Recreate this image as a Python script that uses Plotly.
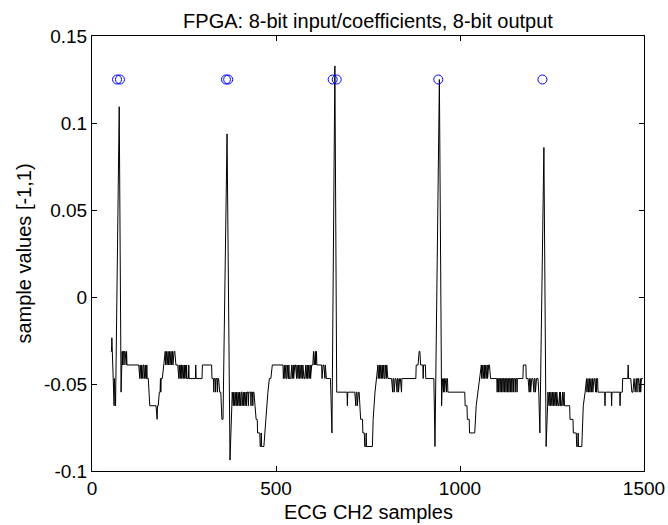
import plotly.graph_objects as go

# ---- data (x = sample index, code = 8-bit output code, LSB = 1/128) ----
OUTPUT_LSB = 1.0 / 128

SEG_BEAT1 = [
    (51, -4), (53, -4), (54, -3), (55, -4), (57, -6), (59, -6), (60, -8), (61, -6), (62, -8), (64, -8),
    (74, 14), (77, -7), (79, -7), (82, -4),
    (83, -5), (84, -4), (86, -4), (87, -5), (88, -4), (90, -4), (91, -5), (92, -4), (93, -5), (94, -4), (95, -5),
    (127, -5),
    (128, -6), (129, -5), (130, -6), (131, -5), (132, -6), (134, -6), (135, -5), (136, -6), (137, -5), (138, -6),
    (139, -5), (141, -5), (142, -6), (143, -5), (144, -6), (145, -5), (146, -6), (148, -6), (149, -5), (150, -6),
    (153, -6), (154, -7), (156, -7), (157, -8), (174, -8), (175, -9), (177, -9), (178, -8), (180, -8), (183, -7),
    (185, -7), (186, -6), (187, -7), (188, -6), (191, -6), (194, -5), (196, -5), (197, -4),
    (199, -4), (200, -5), (201, -4), (202, -5), (203, -4), (204, -5), (205, -4), (207, -4), (208, -5), (209, -4),
    (210, -5), (211, -4), (212, -5), (213, -4), (215, -4), (216, -5), (217, -4), (218, -5), (219, -4), (220, -5),
    (221, -4), (222, -5), (223, -4), (225, -4), (226, -5), (227, -4), (228, -5),
    (233, -5), (234, -6), (235, -5), (236, -6), (237, -5), (238, -6), (239, -5), (240, -6), (241, -5), (243, -5),
    (244, -6), (245, -5), (246, -6), (247, -5), (248, -6), (249, -5), (250, -6), (251, -5), (252, -6), (253, -5),
    (255, -5), (256, -6), (257, -5), (258, -6),
    (262, -6), (263, -5), (264, -6), (281, -6), (282, -5), (283, -6), (299, -6), (300, -5), (325, -5), (326, -6),
    (330, -6), (331, -7), (332, -6), (335, -6), (336, -7), (337, -6), (340, -6), (341, -7), (342, -6), (344, -6),
    (345, -7), (346, -6), (347, -7), (350, -7), (352, -8), (353, -9), (356, -9),
]

SEG_BEAT2 = [
    (367, 12), (375, -12), (378, -8),
    (380, -8), (381, -7), (382, -8), (383, -7), (384, -8), (385, -7), (386, -8), (387, -7), (388, -8), (389, -7),
    (390, -8), (392, -8), (393, -7), (394, -8), (395, -7), (396, -8), (397, -7), (398, -8), (400, -8), (401, -7),
    (402, -8), (403, -7), (404, -8), (405, -7), (407, -7), (408, -8), (409, -7), (410, -8), (411, -7), (412, -8),
    (413, -7), (415, -7), (416, -8), (417, -7), (419, -7), (420, -8), (421, -7), (424, -7), (425, -8), (426, -7),
    (431, -7), (432, -8), (433, -7), (436, -7), (437, -8), (438, -7), (440, -7), (441, -8), (443, -8),
    (446, -9), (449, -9), (450, -10), (456, -10), (457, -11), (459, -11), (460, -10), (461, -11), (467, -11),
    (472, -9), (478, -7), (482, -6), (486, -6), (490, -5), (519, -5),
    (520, -6), (521, -5), (522, -6), (523, -5), (524, -6), (525, -5), (526, -6), (527, -5), (528, -6), (530, -6),
    (531, -5), (532, -6), (533, -5), (534, -6), (535, -5), (536, -6), (540, -6), (541, -5), (542, -6), (543, -5),
    (544, -6), (545, -5), (546, -6), (547, -5), (548, -6), (549, -5), (550, -6), (551, -5), (553, -5), (554, -6),
    (555, -5), (556, -6), (557, -5), (558, -6), (559, -5), (560, -6), (561, -5), (562, -6), (564, -6), (565, -5),
    (566, -6), (567, -5), (568, -6), (569, -5), (570, -6), (571, -5), (572, -6), (573, -5), (574, -6), (575, -5),
    (576, -6), (578, -6), (579, -5), (580, -6), (581, -5), (582, -6), (583, -5), (584, -6), (585, -5), (586, -6),
    (587, -5), (588, -6), (589, -5), (590, -6), (591, -5), (592, -6), (593, -5), (594, -6), (595, -5), (596, -6),
    (597, -5), (600, -5), (602, -4), (604, -5), (605, -4), (607, -4), (608, -5), (610, -4), (611, -5), (615, -5),
    (624, -5), (625, -6), (626, -5), (627, -6), (628, -5), (630, -5), (631, -6), (632, -5), (633, -6), (634, -5),
    (635, -6), (636, -5), (637, -6), (648, -6), (652, -10),
]

SEG_BEAT3 = [
    (660, 17), (664, -6), (665, -7), (693, -7), (694, -8), (695, -7), (714, -7),
    (715, -8), (716, -7), (717, -8), (718, -7), (720, -7), (721, -8), (722, -7), (723, -8), (724, -7), (726, -7),
    (727, -8), (729, -8), (730, -9), (735, -9), (736, -10), (740, -10), (741, -11), (744, -11), (745, -10),
    (746, -11), (762, -11), (764, -9), (769, -7), (773, -6), (777, -5),
    (778, -6), (779, -5), (780, -6), (781, -5), (782, -6), (783, -5), (784, -6), (785, -5), (786, -6), (787, -5),
    (789, -5), (790, -6), (791, -5), (792, -6), (793, -5), (794, -6), (796, -6), (797, -5), (798, -6), (799, -5),
    (800, -6), (801, -5), (802, -6), (803, -5), (804, -6), (814, -6),
    (815, -7), (816, -6), (817, -7), (818, -6), (820, -6), (821, -7), (822, -6), (823, -7), (824, -6), (826, -6),
    (827, -7), (828, -6), (829, -7), (830, -6), (832, -6), (833, -7), (834, -6), (835, -7), (836, -6), (838, -6),
    (839, -7), (840, -6), (841, -7), (842, -6), (880, -6), (881, -5), (886, -5), (889, -4), (891, -4), (893, -5),
    (899, -5), (900, -6), (901, -5), (906, -5), (907, -6), (929, -6), (932, -11),
]

SEG_BEAT4 = [
    (944, 16), (950, -8), (952, -6), (953, -7), (954, -6), (955, -7), (956, -6), (957, -7), (958, -6), (960, -6),
    (961, -7), (962, -6), (963, -7), (964, -6), (966, -6), (967, -7), (1013, -7), (1014, -8), (1019, -8),
    (1020, -9), (1025, -9), (1026, -10), (1040, -10), (1044, -8), (1049, -7), (1054, -6), (1058, -5),
    (1059, -6), (1060, -5), (1061, -6), (1062, -5), (1063, -6), (1064, -5), (1065, -6), (1066, -5), (1067, -6),
    (1068, -5), (1069, -6), (1070, -5), (1071, -6), (1072, -5), (1073, -6), (1074, -5), (1075, -6), (1076, -5),
    (1077, -6), (1078, -5), (1080, -5), (1081, -6), (1082, -5), (1083, -6), (1100, -6),
    (1101, -7), (1102, -6), (1104, -6), (1105, -7), (1106, -6), (1108, -6), (1109, -7), (1110, -6), (1112, -6),
    (1113, -7), (1114, -6), (1116, -6), (1117, -7), (1118, -6), (1120, -6), (1121, -7), (1122, -6), (1124, -6),
    (1125, -7), (1126, -6), (1128, -6), (1129, -7), (1130, -6), (1132, -6), (1133, -7), (1134, -6), (1136, -6),
    (1137, -7), (1138, -6), (1140, -6), (1141, -7), (1142, -6), (1144, -6), (1145, -7), (1146, -6), (1149, -6),
    (1150, -7), (1151, -6), (1154, -6), (1155, -7), (1156, -6), (1171, -6), (1172, -5), (1179, -5), (1180, -6),
    (1185, -6), (1186, -7), (1187, -6), (1188, -7), (1189, -6), (1191, -6), (1192, -7), (1193, -6), (1194, -7),
    (1195, -6), (1198, -6), (1199, -7), (1200, -6), (1201, -7), (1202, -6), (1204, -6), (1205, -7), (1206, -6),
    (1207, -7), (1208, -6), (1212, -6), (1214, -7), (1217, -10),
]

SEG_BEAT5 = [
    (1228, 11), (1234, -11), (1236, -8),
    (1238, -8), (1239, -7), (1240, -8), (1241, -7), (1242, -8), (1243, -7), (1244, -8), (1246, -8), (1247, -7),
    (1248, -8), (1249, -7), (1250, -8), (1251, -7), (1252, -8), (1253, -7), (1254, -8), (1255, -7), (1256, -8),
    (1257, -7), (1258, -8), (1259, -7), (1260, -8), (1262, -8), (1263, -7), (1264, -8), (1265, -7), (1266, -8),
    (1268, -8), (1269, -7), (1270, -8), (1271, -7), (1272, -8), (1273, -7), (1274, -8), (1276, -8), (1277, -7),
    (1278, -8), (1279, -7), (1280, -8), (1281, -7), (1282, -8), (1283, -7), (1284, -8), (1298, -8), (1299, -9),
    (1307, -9), (1308, -10), (1316, -10), (1317, -11), (1320, -11), (1321, -10), (1322, -11), (1331, -11),
    (1335, -8), (1340, -7), (1344, -6),
    (1345, -7), (1346, -6), (1347, -7), (1348, -6), (1349, -7), (1350, -6), (1351, -7), (1352, -6), (1353, -7),
    (1354, -6), (1356, -6), (1357, -7), (1358, -6), (1359, -7), (1360, -6), (1361, -7), (1362, -6), (1363, -7),
    (1364, -6), (1366, -6), (1367, -7), (1368, -6), (1369, -7), (1370, -6), (1371, -7), (1372, -6), (1374, -6),
    (1375, -7), (1393, -7), (1394, -8), (1395, -7), (1411, -7), (1412, -8), (1413, -7), (1434, -7), (1435, -8),
    (1436, -7), (1441, -7), (1442, -6), (1456, -6), (1457, -5), (1458, -6), (1464, -6), (1465, -7), (1466, -6),
    (1467, -7), (1470, -7), (1471, -6), (1473, -6), (1476, -7), (1479, -6), (1481, -7), (1482, -6), (1485, -6),
    (1487, -7), (1490, -6), (1491, -7), (1493, -6), (1497, -6),
]

# detected R-peak markers
MARK_X = [68, 76, 364, 370, 654, 665, 941, 1224]
MARK_Y = [0.125, 0.125, 0.125, 0.125, 0.125, 0.125, 0.125, 0.125]

X_TICKS = [0, 500, 1000, 1500]
X_TICKTEXT = ["0", "500", "1000", "1500"]
Y_TICKS = [-0.1, -0.05, 0, 0.05, 0.1, 0.15]
Y_TICKTEXT = ["-0.1", "-0.05", "0", "0.05", "0.1", "0.15"]

TITLE = "FPGA: 8-bit input/coefficients, 8-bit output"
XLABEL = "ECG CH2 samples"
YLABEL = "sample values [-1,1)"

# ---- build ----
points = SEG_BEAT1 + SEG_BEAT2 + SEG_BEAT3 + SEG_BEAT4 + SEG_BEAT5
ecg_x = [p[0] for p in points]
ecg_y = [p[1] * OUTPUT_LSB for p in points]

FONT = "Liberation Sans, Arial, Helvetica, sans-serif"

fig = go.Figure()
fig.add_trace(go.Scatter(x=ecg_x, y=ecg_y, mode="lines",
                         line=dict(color="black", width=1), hoverinfo="skip", showlegend=False))
fig.add_trace(go.Scatter(x=MARK_X, y=MARK_Y, mode="markers",
                         marker=dict(symbol="circle-open", size=9, color="#0000ff", line=dict(width=1, color="#0000ff")),
                         showlegend=False))

axis_common = dict(showline=True, linecolor="black", linewidth=1, mirror="ticks", ticks="inside",
                   ticklen=5, tickcolor="black", showgrid=False, zeroline=False, automargin=False,
                   tickfont=dict(family=FONT, size=19, color="black"))

fig.update_layout(
    width=668, height=525,
    margin=dict(l=92, r=24, t=36, b=54, pad=0),
    paper_bgcolor="white", plot_bgcolor="white",
    title=dict(text=TITLE, x=0.5, xref="paper", xanchor="center", y=1 - 21 / 525, yref="container",
               yanchor="middle", font=dict(family=FONT, size=20, color="black")),
    xaxis=dict(range=[0, 1500], tickvals=X_TICKS, ticktext=X_TICKTEXT, **axis_common),
    yaxis=dict(range=[-0.1, 0.15], tickvals=Y_TICKS, ticktext=Y_TICKTEXT, **axis_common),
    annotations=[
        dict(text=XLABEL, xref="paper", yref="paper", x=0.5, y=-0.064, xanchor="center", yanchor="top",
             showarrow=False, font=dict(family=FONT, size=20, color="black")),
        dict(text=YLABEL, xref="paper", yref="paper", x=-0.125, y=0.5, xanchor="center", yanchor="middle",
             textangle=-90, showarrow=False, font=dict(family=FONT, size=20, color="black")),
    ],
)

fig.write_html("out.html")
